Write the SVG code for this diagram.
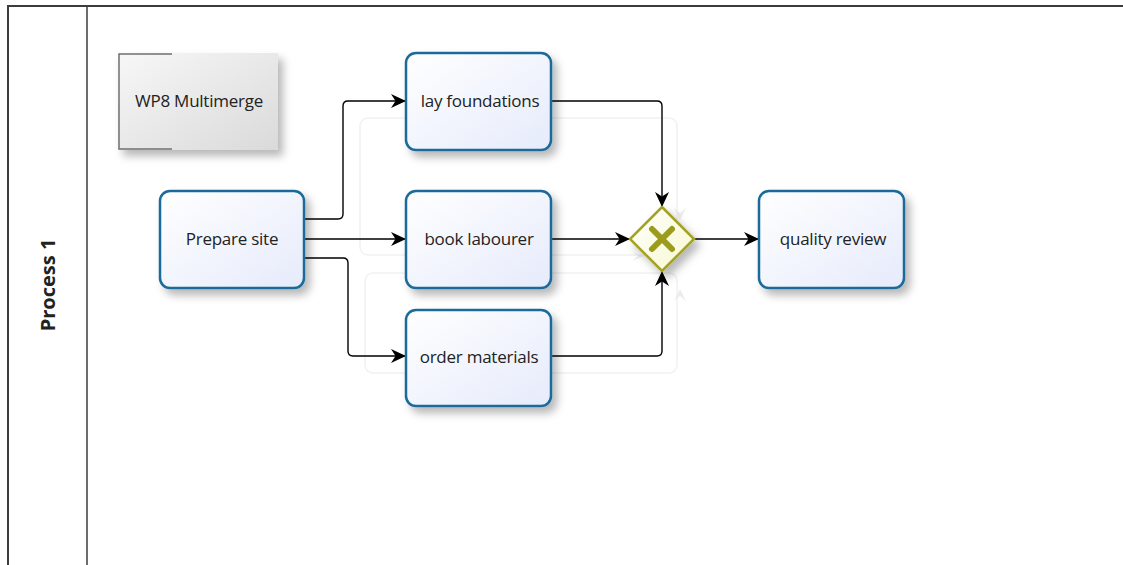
<svg xmlns="http://www.w3.org/2000/svg" width="1123" height="565" viewBox="0 0 1123 565">
  <defs>
    <linearGradient id="taskFill" x1="0" y1="0" x2="1" y2="1">
      <stop offset="0" stop-color="#ffffff"/>
      <stop offset="1" stop-color="#e6ebfb"/>
    </linearGradient>
    <linearGradient id="noteFill" x1="0" y1="0" x2="1" y2="1">
      <stop offset="0" stop-color="#f7f7f7"/>
      <stop offset="1" stop-color="#dadada"/>
    </linearGradient>
    <linearGradient id="gwFill" x1="0" y1="0" x2="1" y2="1">
      <stop offset="0" stop-color="#ffffff"/>
      <stop offset="1" stop-color="#f8f8d0"/>
    </linearGradient>
    <filter id="shadow" x="-20%" y="-20%" width="150%" height="150%">
      <feDropShadow dx="5" dy="6" stdDeviation="4" flood-color="#000" flood-opacity="0.28"/>
    </filter>
    <marker id="arrow" viewBox="0 0 15 14" refX="15" refY="7" markerWidth="15" markerHeight="14" markerUnits="userSpaceOnUse" orient="auto">
      <path d="M0,0 L15,7 L0,14 L4.5,7 Z" fill="#000"/>
    </marker>
  </defs>
  <style>
    .label { font-family: "Open Sans", "Noto Sans", "DejaVu Sans", sans-serif; font-size: 17px; fill: #222; text-anchor: middle; dominant-baseline: central; letter-spacing: -0.25px; }
    .task { fill: url(#taskFill); stroke: #1b6b9a; stroke-width: 2.5; filter: url(#shadow); }
    .flow { fill: none; stroke: #000; stroke-width: 1.4; marker-end: url(#arrow); }
    .ghost { fill: none; stroke: #f1f1f1; stroke-width: 1.5; }
    .ghost-tip { fill: #ececec; }
  </style>

  <rect width="1123" height="565" fill="#ffffff"/>

  <!-- pool and lane -->
  <g id="pool">
    <path d="M8,565 L8,6 L1123,6" fill="none" stroke="#3c3c3c" stroke-width="2"/>
    <line x1="87" y1="6" x2="87" y2="565" stroke="#3c3c3c" stroke-width="1.5"/>
    <text class="label" transform="translate(47,285) rotate(-90)" style="font-weight:bold;font-size:20px;letter-spacing:0">Process 1</text>
  </g>

  <!-- faint layout guides -->
  <g id="guides">
    <rect class="ghost" x="360" y="118" width="317" height="137" rx="8"/>
    <rect class="ghost" x="365" y="273" width="312" height="100" rx="8"/>
    <path class="ghost-tip" d="M674,208 L680,213 L686,208 L680,220 Z"/>
    <path class="ghost-tip" d="M674,301 L680,296 L686,301 L680,289 Z"/>
    <path class="ghost-tip" d="M632,252 L638,256 L632,261 L644,256 Z"/>
  </g>

  <!-- annotation -->
  <g id="note">
    <rect x="118" y="53" width="160" height="97" fill="url(#noteFill)" filter="url(#shadow)"/>
    <path d="M172,54 L119,54 L119,149 L172,149" fill="none" stroke="#707070" stroke-width="1.5"/>
    <text class="label" x="199" y="100">WP8 Multimerge</text>
  </g>

  <!-- connectors -->
  <g id="connectors">
    <path class="flow" d="M304,219 L338,219 Q343,219 343,214 L343,106 Q343,101 348,101 L406,101"/>
    <path class="flow" d="M304,239 L406,239"/>
    <path class="flow" d="M304,258 L343,258 Q348,258 348,263 L348,351 Q348,356 353,356 L406,356"/>
    <path class="flow" d="M551,101 L657,101 Q662,101 662,106 L662,207"/>
    <path class="flow" d="M551,239 L630,239"/>
    <path class="flow" d="M551,356 L657,356 Q662,356 662,351 L662,271"/>
    <path class="flow" d="M694,239 L759,239"/>
  </g>

  <!-- tasks -->
  <g id="prepare-site">
    <rect class="task" x="160" y="191" width="144" height="97" rx="10"/>
    <text class="label" x="232" y="238">Prepare site</text>
  </g>
  <g id="lay-foundations">
    <rect class="task" x="406" y="53" width="145" height="97" rx="10"/>
    <text class="label" x="480" y="100">lay foundations</text>
  </g>
  <g id="book-labourer">
    <rect class="task" x="406" y="191" width="145" height="97" rx="10"/>
    <text class="label" x="479" y="238">book labourer</text>
  </g>
  <g id="order-materials">
    <rect class="task" x="406" y="310" width="145" height="96" rx="10"/>
    <text class="label" x="479" y="356">order materials</text>
  </g>
  <g id="quality-review">
    <rect class="task" x="759" y="191" width="145" height="97" rx="10"/>
    <text class="label" x="833" y="238">quality review</text>
  </g>

  <!-- exclusive gateway -->
  <g id="gateway">
    <path d="M662,207 L694,239 L662,271 L630,239 Z" fill="url(#gwFill)" stroke="#a3a322" stroke-width="2.5" filter="url(#shadow)"/>
    <path d="M652,229 L672,249 M672,229 L652,249" stroke="#9b9b1c" stroke-width="6" stroke-linecap="round"/>
  </g>
</svg>
